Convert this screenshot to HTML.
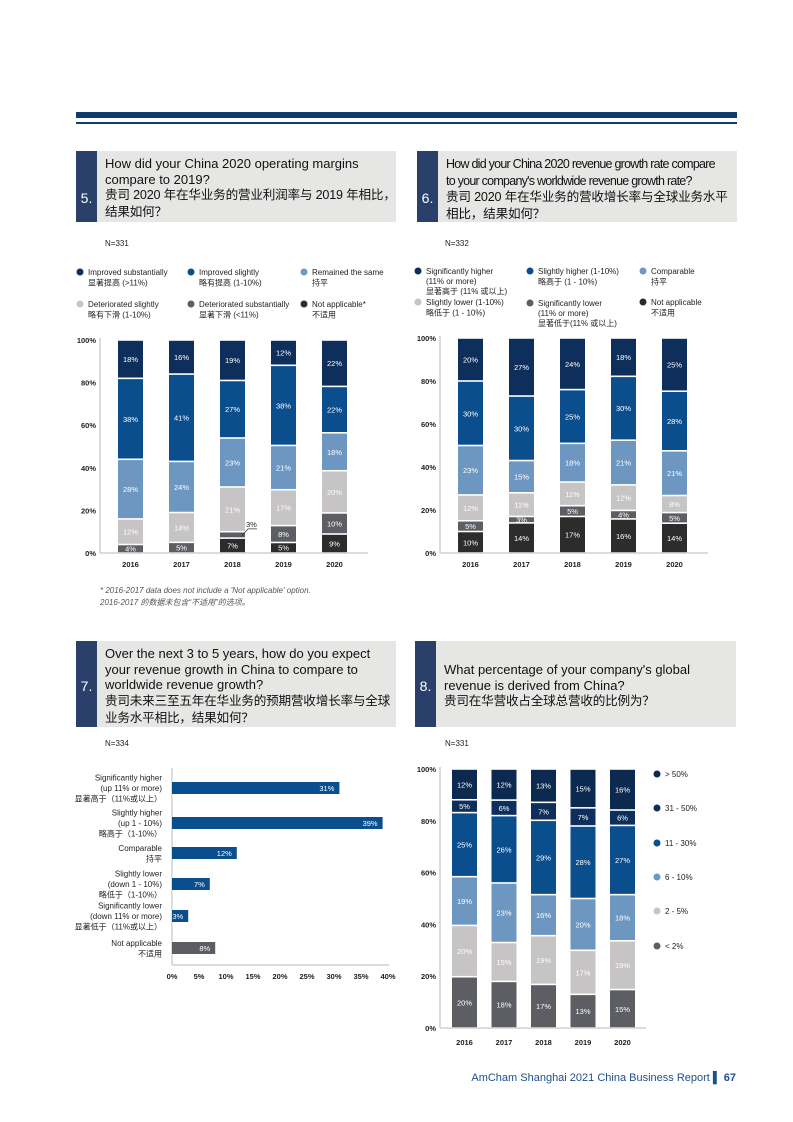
<!DOCTYPE html>
<html><head><meta charset="utf-8">
<style>
body{margin:0;background:#fff;}
#page{position:relative;width:793px;height:1122px;overflow:hidden;font-family:"Liberation Sans","Noto Sans CJK SC",sans-serif;}
.hdr{position:absolute;background:#e6e6e5;}
.hdr .num{position:absolute;left:0;top:0;bottom:0;width:21px;background:#2a3f6a;color:#fff;font-size:14px;display:flex;align-items:center;justify-content:center;}
.hdr .txt{position:absolute;left:29px;font-size:13px;line-height:15.7px;color:#111;white-space:nowrap;}
.cj{font-size:12.6px;letter-spacing:-0.2px;}
svg text{font-family:"Liberation Sans","Noto Sans CJK SC",sans-serif;}
</style></head><body>
<div id="page">
<div style="position:absolute;left:76px;top:112px;width:661px;height:6px;background:#0d3b6a"></div>
<div style="position:absolute;left:76px;top:122px;width:661px;height:2px;background:#0d3b6a"></div>

<div class="hdr" style="left:76px;top:151px;width:320px;height:71px">
 <div class="num" style="padding-top:22px;box-sizing:border-box">5.</div>
 <div class="txt" style="top:5px">How did your China 2020 operating margins<br>compare to 2019?<br><span class="cj">贵司 2020 年在华业务的营业利润率与 2019 年相比，<br>结果如何？</span></div>
</div>
<div class="hdr" style="left:417px;top:151px;width:320px;height:71px">
 <div class="num" style="padding-top:22px;box-sizing:border-box">6.</div>
 <div class="txt" style="top:5px"><span style="font-size:12.5px;letter-spacing:-0.75px">How did your China 2020 revenue growth rate compare<br>to your company's worldwide revenue growth rate?</span><br><span class="cj">贵司 2020 年在华业务的营收增长率与全球业务水平<br>相比，结果如何？</span></div>
</div>
<div class="hdr" style="left:76px;top:641px;width:320px;height:86px">
 <div class="num" style="padding-top:4px;box-sizing:border-box">7.</div>
 <div class="txt" style="top:5px">Over the next 3 to 5 years, how do you expect<br>your revenue growth in China to compare to<br>worldwide revenue growth?<br><span class="cj">贵司未来三至五年在华业务的预期营收增长率与全球<br>业务水平相比，结果如何？</span></div>
</div>
<div class="hdr" style="left:415px;top:641px;width:321px;height:86px">
 <div class="num" style="padding-top:4px;box-sizing:border-box">8.</div>
 <div class="txt" style="top:21px">What percentage of your company's global<br>revenue is derived from China?<br><span class="cj">贵司在华营收占全球总营收的比例为？</span></div>
</div>

<svg id="charts" width="793" height="1122" style="position:absolute;left:0;top:0"></svg>

<div style="position:absolute;left:100px;top:585px;font-size:8px;line-height:12px;color:#555;font-style:italic">* 2016-2017 data does not include a 'Not applicable' option.<br>2016-2017 的数据未包含“不适用”的选项。</div>
<div style="position:absolute;right:57px;top:1072px;font-size:11px;color:#1d4f8c">AmCham Shanghai 2021 China Business Report <b style="color:#1d4f8c">▌</b> <b>67</b></div>
</div>
<script>
const years = ["2016","2017","2018","2019","2020"];
const yTicks = ["0%","20%","40%","60%","80%","100%"];
// Q5 series (bottom to top)
const q5NA = [0,0,7,5,9];
const q5DetSub = [4,5,3,8,10];
const q5DetSl = [12,14,21,17,20];
const q5Same = [28,24,23,21,18];
const q5ImpSl = [38,41,27,38,22];
const q5ImpSub = [18,16,19,12,22];
// Q6 series
const q6NA = [10,14,17,16,14];
const q6SigLow = [5,3,5,4,5];
const q6SlLow = [12,11,11,12,8];
const q6Comp = [23,15,18,21,21];
const q6SlHigh = [30,30,25,30,28];
const q6SigHigh = [20,27,24,18,25];
// Q7
const q7Values = [31,39,12,7,3,8];
const q7Ticks = [0,5,10,15,20,25,30,35,40];
// Q8
const q8Lt2 = [20,18,17,13,15];
const q8P2to5 = [20,15,19,17,19];
const q8P6to10 = [19,23,16,20,18];
const q8P11to30 = [25,26,29,28,27];
const q8P31to50 = [5,6,7,7,6];
const q8Gt50 = [12,12,13,15,16];

const C = {navy:"#0e2f5c",blue:"#0b4e8e",light:"#6d97c1",gray:"#c6c4c4",dark:"#5c5e63",black:"#2c2c2c"};
const svg = document.getElementById('charts');
const NS = "http://www.w3.org/2000/svg";
function el(tag, attrs, parent){const e=document.createElementNS(NS,tag);for(const k in attrs)e.setAttribute(k,attrs[k]);(parent||svg).appendChild(e);return e;}
function txt(x,y,s,size,fill,anchor,weight,parent){const t=el('text',{x:x,y:y,'font-size':size,fill:fill,'text-anchor':anchor||'start','font-weight':weight||'normal'},parent);t.textContent=s;return t;}

function stacked(name, series, colors, axisX, x0, step, bw, yBottom, yTop, yearY, callout, axisEnd){
  const g=el('g',{});
  
  
  const h=yBottom-yTop;
  const ys=v=>yBottom-v/100*h;
  const ax=el('line',{x1:axisX,y1:yTop-2,x2:axisX,y2:yBottom,stroke:'#d0d0d0','stroke-width':1.5},g);
  
  
  const bx=el('line',{x1:axisX,y1:yBottom,x2:axisEnd,y2:yBottom,stroke:'#d0d0d0','stroke-width':1.5},g);
  
  
  yTicks.forEach((t,i)=>{const tt=txt(axisX-4,ys(i*20)+3,t,7.5,'#222','end','bold',g);
    
    });
  years.forEach((yr,i)=>{
    const x=x0+i*step;
    let total=0; series.forEach(s=>total+=s[i]);
    let acc=0;
    series.forEach((s,k)=>{
      const v=s[i]/total*100; if(s[i]<=0) return;
      const y1=ys(acc), y2=ys(acc+v); acc+=v;
      const r=el('rect',{x:x,y:y2+0.8,width:bw,height:Math.max(0.5,y1-y2-1.6),fill:colors[k]},g);
      
      
      const lab=s[i]+'%';
      if(callout && callout.year===i && callout.series===k){
        const ln=el('polyline',{points:`${x+bw-4},${(y1+y2)/2+2} ${x+bw+3},${(y1+y2)/2-6} ${x+bw+12},${(y1+y2)/2-6}`,fill:'none',stroke:'#333','stroke-width':0.7},g);
        
        
        const ct=txt(x+bw+1,(y1+y2)/2-8,lab,7.5,'#222','start','normal',g);
        
        
      } else {
        const vt=txt(x+bw/2,(y1+y2)/2+3,lab,7.5,'#fff','middle','normal',g);
        
        
      }
    });
    const yt=txt(x+bw/2,yearY,yr,7.5,'#222','middle','bold',g);
    
    
  });
}
function legendItem(name,cx,cy,color,lines,dy){
  const c=el('circle',{cx:cx,cy:cy,r:3.5,fill:color});
  
  
  lines.forEach((l,i)=>{const t=txt(cx+8,cy+3+i*(dy||10.5),l,8,'#222');
    
    });
}
function nLabel(name,x,y,s){const t=txt(x,y,s,8,'#222');}

// Q5
nLabel('q5-sample-size',105,246,'N=331');
legendItem('q5-legend-improved-substantially',80,272,C.navy,['Improved substantially','显著提高 (>11%)']);
legendItem('q5-legend-improved-slightly',191,272,C.blue,['Improved slightly','略有提高 (1-10%)']);
legendItem('q5-legend-remained-same',304,272,C.light,['Remained the same','持平']);
legendItem('q5-legend-deteriorated-slightly',80,304,C.gray,['Deteriorated slightly','略有下滑 (1-10%)']);
legendItem('q5-legend-deteriorated-substantially',191,304,C.dark,['Deteriorated substantially','显著下滑 (<11%)']);
legendItem('q5-legend-not-applicable',304,304,C.black,['Not applicable*','不适用']);
stacked('q5-chart',[q5NA,q5DetSub,q5DetSl,q5Same,q5ImpSl,q5ImpSub],[C.black,C.dark,C.gray,C.light,C.blue,C.navy],100,118,51,25,553,340,567,{year:2,series:1},368);

// Q6
nLabel('q6-sample-size',445,246,'N=332');
legendItem('q6-legend-significantly-higher',418,271,C.navy,['Significantly higher',' (11% or more)','显著高于 (11% 或以上)'],10);
legendItem('q6-legend-slightly-higher',530,271,C.blue,['Slightly higher (1-10%)','略高于 (1 - 10%)']);
legendItem('q6-legend-comparable',643,271,C.light,['Comparable','持平']);
legendItem('q6-legend-slightly-lower',418,302,C.gray,['Slightly lower (1-10%)','略低于 (1 - 10%)']);
legendItem('q6-legend-significantly-lower',530,303,C.dark,['Significantly lower','(11% or more)','显著低于(11% 或以上)'],10);
legendItem('q6-legend-not-applicable',643,302,C.black,['Not applicable','不适用']);
stacked('q6-chart',[q6NA,q6SigLow,q6SlLow,q6Comp,q6SlHigh,q6SigHigh],[C.black,C.dark,C.gray,C.light,C.blue,C.navy],440,458,51,25,553,338,567,null,708);

// Q7 horizontal bars
nLabel('q7-sample-size',105,746,'N=334');
const q7Labels=[["Significantly higher","(up 11% or more)","显著高于（11%或以上）"],["Slightly higher","(up 1 - 10%)","略高于（1-10%）"],["Comparable","持平"],["Slightly lower","(down 1 - 10%)","略低于（1-10%）"],["Significantly lower","(down 11% or more)","显著低于（11%或以上）"],["Not applicable","不适用"]];
(function(){
  const g=el('g',{});
  
  
  const x0=172, x40=388, sx=v=>x0+v/40*(x40-x0);
  const rowY=[788,823,853,884,916,948];
  const a1=el('line',{x1:x0,y1:768,x2:x0,y2:965,stroke:'#d0d0d0','stroke-width':1.5},g);
  
  
  const a2=el('line',{x1:x0,y1:965,x2:x40+1,y2:965,stroke:'#d0d0d0','stroke-width':1.5},g);
  
  
  q7Ticks.forEach(t=>{const tt=txt(sx(t),979,t+'%',7.5,'#222','middle','bold',g);
    
    });
  q7Values.forEach((v,i)=>{
    const r=el('rect',{x:x0,y:rowY[i]-6,width:sx(v)-x0,height:12,fill:i===5?C.dark:C.blue},g);
    
    
    const vt=txt(sx(v)-5,rowY[i]+3,v+'%',7.5,'#fff','end','normal',g);
    
    
    const L=q7Labels[i]; const start=rowY[i]-(L.length-1)*10.5/2+3;
    L.forEach((s,j)=>{const t=txt(162,start+j*10.5,s,8,'#222','end','normal',g);
      
      });
  });
})();

// Q8
nLabel('q8-sample-size',445,746,'N=331');
stacked('q8-chart',[q8Lt2,q8P2to5,q8P6to10,q8P11to30,q8P31to50,q8Gt50],[C.dark,C.gray,C.light,C.blue,C.navy,"#0c2a50"],440,452,39.5,25,1028,769,1045,null,646);
legendItem('q8-legend-gt50',657,774,"#0c2a50",['> 50%']);
legendItem('q8-legend-31-50',657,808,C.navy,['31 - 50%']);
legendItem('q8-legend-11-30',657,843,C.blue,['11 - 30%']);
legendItem('q8-legend-6-10',657,877,C.light,['6 - 10%']);
legendItem('q8-legend-2-5',657,911,C.gray,['2 - 5%']);
legendItem('q8-legend-lt2',657,946,C.dark,['< 2%']);
</script>
</body></html>
